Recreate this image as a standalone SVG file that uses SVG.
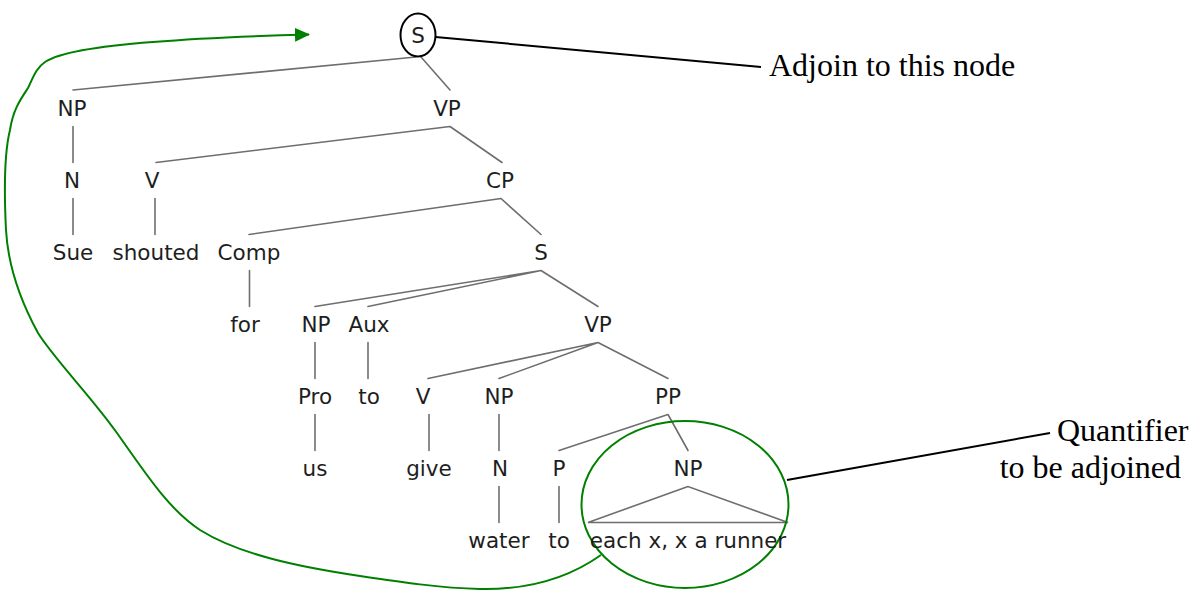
<svg xmlns="http://www.w3.org/2000/svg" width="1201" height="591" viewBox="0 0 1201 591">
<defs>
<style>
.t{font-family:"DejaVu Sans",sans-serif;font-size:21.5px;fill:#1e1e1e;text-anchor:middle}
.e{stroke:#6e6e6e;stroke-width:1.6;fill:none;stroke-linecap:round}
.note{font-family:"Liberation Serif","Times New Roman",serif;font-size:32px;fill:#000}
.blk{stroke:#000;stroke-width:2;fill:none}
.grn{stroke:#008000;stroke-width:2;fill:none}
</style>
<marker id="ga" viewBox="0 0 15 14" refX="14" refY="7" markerWidth="15" markerHeight="14" markerUnits="userSpaceOnUse" orient="auto">
<path d="M0,0 L15,7 L0,14 Z" fill="#008000"/>
</marker>
</defs>
<rect width="1201" height="591" fill="#fff"/>
<g id="connectors">
<path class="e" d="M416,57 L73,90 M421,57 L450,90"/>
<path class="e" d="M73,126.5 V162.5 M450,126.5 L156,162.5 M450,126.5 L502,162.5"/>
<path class="e" d="M73,198.5 V234.5 M155,198.5 V234.5 M501,198.5 L249,234.5 M501,198.5 L541,234.5"/>
<path class="e" d="M249.5,270.5 V306.5 M541,270.5 L315,306.5 M541,270.5 L368,306.5 M541,270.5 L598,306.5"/>
<path class="e" d="M315,342.5 V378.5 M368,342.5 V378.5 M598,342.5 L428,378.5 M598,342.5 L499,378.5 M598,342.5 L668,378.5"/>
<path class="e" d="M315,414.5 V450.5 M429,414.5 V450.5 M499,414.5 V450.5 M668,414.5 L559,450.5 M668,414.5 L688,450.5"/>
<path class="e" d="M499,486.5 V522.5 M559,486.5 V522.5 M688,486.5 L588,522.5 L788,522.5 Z"/>
<path class="blk" d="M435.5,37 L761,67"/>
<path class="blk" d="M787,480 L1050,433"/>
<path class="grn" marker-end="url(#ga)" d="M601,555 C570,577 530,590 480,589 C440,588 400,582 360,576 C300,567 240,555 200,530 C170,510 150,480 117,433 C90,395 55,360 38,333 C20,300 8,265 6,230 C4,190 5,150 10,130 C13,110 20,100 28,88 C33,78 36,68 45,62 C60,52 100,46 153,42 C200,38 250,36 309,34.5"/>
</g>
<g id="n-S-top"><ellipse class="blk" cx="418" cy="35" rx="17.5" ry="21.5"/><text class="t" x="418" y="43">S</text></g>
<g id="n-NP1"><text class="t" x="72" y="115.5">NP</text></g>
<g id="n-VP1"><text class="t" x="447" y="115.5">VP</text></g>
<g id="n-N1"><text class="t" x="72" y="187.5">N</text></g>
<g id="n-V1"><text class="t" x="152" y="187.5">V</text></g>
<g id="n-CP"><text class="t" x="500" y="187.5">CP</text></g>
<g id="n-Sue"><text class="t" x="73" y="259.5">Sue</text></g>
<g id="n-shouted"><text class="t" x="156" y="259.5">shouted</text></g>
<g id="n-Comp"><text class="t" x="249" y="259.5">Comp</text></g>
<g id="n-S2"><text class="t" x="541" y="259.5">S</text></g>
<g id="n-for"><text class="t" x="245" y="331.5">for</text></g>
<g id="n-NP2"><text class="t" x="316" y="331.5">NP</text></g>
<g id="n-Aux"><text class="t" x="369" y="331.5">Aux</text></g>
<g id="n-VP2"><text class="t" x="598" y="331.5">VP</text></g>
<g id="n-Pro"><text class="t" x="315" y="403.5">Pro</text></g>
<g id="n-to1"><text class="t" x="369" y="403.5">to</text></g>
<g id="n-V2"><text class="t" x="423" y="403.5">V</text></g>
<g id="n-NP3"><text class="t" x="499" y="403.5">NP</text></g>
<g id="n-PP"><text class="t" x="668" y="403.5">PP</text></g>
<g id="n-us"><text class="t" x="315" y="475.5">us</text></g>
<g id="n-give"><text class="t" x="429" y="475.5">give</text></g>
<g id="n-N2"><text class="t" x="500" y="475.5">N</text></g>
<g id="n-P"><text class="t" x="559" y="475.5">P</text></g>
<g id="n-NP4"><ellipse class="grn" cx="685" cy="504.5" rx="103.5" ry="83.5"/><text class="t" x="688" y="475.5">NP</text></g>
<g id="n-water"><text class="t" x="499" y="547.5">water</text></g>
<g id="n-to2"><text class="t" x="559" y="547.5">to</text></g>
<g id="n-each"><text class="t" x="688" y="547.5">each x, x a runner</text></g>
<g id="note-adjoin"><text class="note" x="769" y="76">Adjoin to this node</text></g>
<g id="note-quant"><text class="note" x="1057" y="441">Quantifier</text><text class="note" x="1181" y="478" text-anchor="end">to be adjoined</text></g>
</svg>
